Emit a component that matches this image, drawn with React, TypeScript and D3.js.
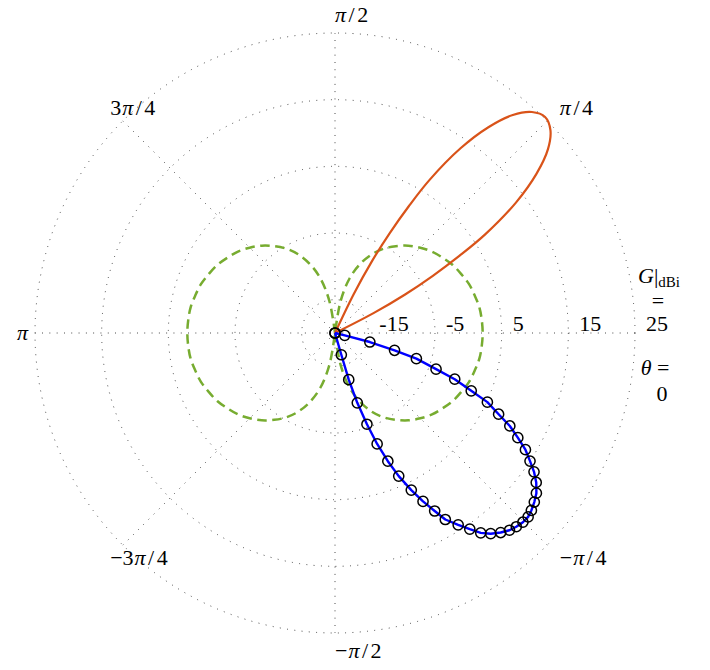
import * as d3 from "d3";

const W = 710;
const H = 670;
const CX = 335;
const CY = 333;
const R = 300;

const gainMin = -20;
const gainMax = 25;
const radialTicks = [-15, -5, 5, 15, 25];
const angleTicks = [0, 45, 90, 135, 180, 225, 270, 315];
const angleLabels = ["", "π/4", "π/2", "3π/4", "π", "−3π/4", "−π/2", "−π/4"];

// half-wave dipole (green, dashed), right lobe; the left lobe is the same turned by 180°
const dipoleAngle = [-85, -80, -75, -70, -65, -60, -55, -50, -45, -40, -35, -30, -25, -20, -15, -10, -5, 0,
  5, 10, 15, 20, 25, 30, 35, 40, 45, 50, 55, 60, 65, 70, 75, 80, 85];
const dipoleGain = [-20, -15.1, -11.5, -9.0, -7.0, -5.4, -4.1, -2.9, -1.9, -1.0, -0.3, 0.4, 0.9, 1.4, 1.7, 2.0, 2.1, 2.15,
  2.1, 2.0, 1.7, 1.4, 0.9, 0.4, -0.3, -1.0, -1.9, -2.9, -4.1, -5.4, -7.0, -9.0, -11.5, -15.1, -20];

// high gain beam (orange)
const beamAngle = [26.0, 27.3, 28.8, 30.3, 31.8, 33.3, 35.8, 38.3, 40.8, 43.3, 45.8, 48.3, 50.8, 53.3, 55.8,
  58.3, 59.8, 61.3, 62.8, 64.3, 65.6];
const beamGain = [-20, -13.5, -8.0, -3.0, 2.0, 7.0, 13.5, 18.5, 22.2, 24.4, 25.2, 24.4, 22.2, 18.5, 13.5,
  7.0, 2.0, -3.0, -8.0, -13.5, -20];

// measured pattern (blue with markers)
const measAngle = [-12.0, -13.3, -14.5, -16.2, -17.5, -19.7, -21.1, -23.0, -24.4, -26.4, -28.0, -29.8, -31.5, -33.3,
  -34.9, -36.6, -38.5, -40.3, -42.1, -43.6, -45.2, -46.9, -48.5, -50.3, -52.2, -53.9, -55.5, -57.3, -59.4, -60.75,
  -62.4, -64.1, -66.0, -67.6, -69.2, -70.7, -72.3, -73.6, -73.8, -74.0];
const measGain = [-20, -18.5, -14.6, -10.7, -7.2, -3.9, -0.75, 2.2, 5.1, 7.4, 9.7, 11.6, 13.5, 15.0,
  16.4, 17.6, 18.6, 19.2, 19.7, 20.0, 20.0, 19.8, 19.5, 18.9, 18.1, 17.1, 15.7, 14.2, 12.5, 10.6,
  8.5, 6.2, 3.5, 0.8, -2.2, -5.5, -9.0, -12.7, -16.6, -20];

const FONT = "'Liberation Serif', 'DejaVu Serif', serif";
const FS = 22;

const rScale = d3.scaleLinear().domain([gainMin, gainMax]).range([0, R]);
const rad = (g: number) => Math.max(0, rScale(g));
const toRad = (deg: number) => (deg * Math.PI) / 180;

type Pt = [number, number];
const zip = (a: number[], g: number[]): Pt[] => a.map((v, i) => [v, g[i]]);

const radial = (curve: d3.CurveFactory) =>
  d3.lineRadial<Pt>()
    .angle(d => toRad(90 - d[0]))
    .radius(d => rad(d[1]))
    .curve(curve);

// pi in italic, a bit of air round the slash (like TeX's math fonts)
function MathLabel({ text }: { text: string }) {
  const chars = Array.from(text);
  return (
    <>
      {chars.map((c, i) => (
        <tspan
          key={i}
          fontStyle={c === "π" ? "italic" : undefined}
          dx={c === "/" || chars[i - 1] === "/" ? 2.5 : c === "π" && i > 0 ? 1 : undefined}
        >
          {c}
        </tspan>
      ))}
    </>
  );
}

export default function App() {
  const smooth = radial(d3.curveCatmullRom);
  const straight = radial(d3.curveLinear);

  const dipoleRight = zip(dipoleAngle, dipoleGain);
  const dipoleLeft = zip(dipoleAngle.map(a => a + 180), dipoleGain);
  const beam = zip(beamAngle, beamGain);
  const meas = zip(measAngle, measGain);

  const edge = R + 18;

  return (
    <svg width={W} height={H} style={{ position: "absolute", left: 0, top: 0 }} fontFamily={FONT}>
      <g transform={`translate(${CX},${CY})`}>
        {/* grid */}
        <g fill="none" stroke="#222" strokeWidth={0.9} strokeDasharray="0.9 6.4">
          {radialTicks.map(t => (
            <circle key={t} r={rScale(t)} />
          ))}
          {angleTicks.map(a => (
            <line key={a} x1={0} y1={0} x2={R * Math.cos(toRad(a))} y2={-R * Math.sin(toRad(a))} />
          ))}
        </g>

        {/* series */}
        <g fill="none" stroke="#77AC30" strokeWidth={2.5} strokeDasharray="9.5 5.5">
          <path d={smooth(dipoleRight) ?? ""} />
          <path d={smooth(dipoleLeft) ?? ""} />
        </g>
        <path d={smooth(beam) ?? ""} fill="none" stroke="#D95319" strokeWidth={2.2} />
        <path d={straight(meas) ?? ""} fill="none" stroke="#0000FF" strokeWidth={2.4} strokeLinejoin="round" />
        <g fill="none" stroke="#000" strokeWidth={1.5}>
          {meas.map((d, i) => (
            <circle
              key={i}
              cx={rad(d[1]) * Math.cos(toRad(d[0]))}
              cy={-rad(d[1]) * Math.sin(toRad(d[0]))}
              r={5.1}
            />
          ))}
        </g>

        {/* radial tick labels */}
        <g fontSize={FS} fill="#000">
          {radialTicks.map(t => (
            <text key={t} x={rScale(t) + 11} y={-2} textAnchor="start">
              {t}
            </text>
          ))}
        </g>

        {/* angular tick labels */}
        <g fontSize={FS} fill="#000">
          {angleTicks.map((a, i) =>
            angleLabels[i] ? (
              <text
                key={a}
                x={edge * Math.cos(toRad(a))}
                y={-edge * Math.sin(toRad(a)) - 1}
                textAnchor="start"
                dominantBaseline="central"
              >
                <MathLabel text={angleLabels[i]} />
              </text>
            ) : null
          )}
        </g>

        {/* axis names */}
        <g fontSize={FS} fill="#000" textAnchor="middle">
          <text x={R + 24} y={-50}>
            <tspan fontStyle="italic">G</tspan>
            <tspan>|</tspan>
            <tspan fontSize={15} dy={4}>dBi</tspan>
          </text>
          <text x={R + 23} y={-25}>=</text>
          <text x={R + 20} y={42}>
            <tspan fontStyle="italic">θ</tspan> =
          </text>
          <text x={R + 27} y={68}>0</text>
        </g>
      </g>
    </svg>
  );
}
